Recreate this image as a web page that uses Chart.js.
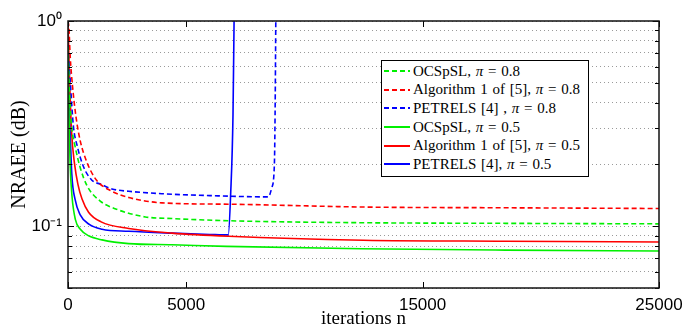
<!DOCTYPE html>
<html>
<head>
<meta charset="utf-8">
<script src="https://cdn.jsdelivr.net/npm/chart.js@4.4.0/dist/chart.umd.min.js"></script>
<style>
  body { margin: 0; background: #fff; }
  #wrap { position: relative; width: 697px; height: 327px; }
  #legend {
    position: absolute; left: 381px; top: 60px; width: 206px;
    padding: 1px 0 2px 0; border: 1.5px solid #000; background: #fff;
    font: 15px "Liberation Serif", serif; word-spacing: 1px; color: #000;
  }
  #legend .row { height: 18.6px; display: flex; align-items: center; white-space: nowrap; }
  #legend .swatch { width: 26px; height: 2px; margin: 0 3px 0 2px; flex: none; }
</style>
</head>
<body>
<div id="wrap">
  <canvas id="chart" width="697" height="327"></canvas>
  <div id="legend"></div>
</div>
<script>
// iterations (x) and NRAEE values (y)
const ocsN08 = [0, 60, 150, 300, 500, 810, 1350, 2050, 3270, 4400, 6850, 12500, 18500, 25000];
const ocsV08 = [0.75, 0.45, 0.31, 0.245, 0.196, 0.157, 0.133, 0.121, 0.111, 0.109, 0.1063, 0.104, 0.1033, 0.1027];

const algN08 = [0, 40, 90, 200, 340, 520, 800, 1200, 1860, 2570, 3980, 6850, 12500, 18500, 25000];
const algV08 = [1.0, 0.92, 0.68, 0.47, 0.34, 0.26, 0.205, 0.168, 0.148, 0.138, 0.130, 0.128, 0.124, 0.123, 0.122];

const petN08 = [0, 100, 225, 394, 647, 1000, 1400, 1860, 2570, 3980, 6000, 8470, 8620, 8730, 8760, 8790];
const petV08 = [0.76, 0.50, 0.31, 0.245, 0.196, 0.168, 0.160, 0.152, 0.148, 0.144, 0.141, 0.139, 0.154, 0.20, 0.35, 1.0];

const ocsN05 = [0, 40, 90, 169, 310, 521, 874, 1438, 2567, 4400, 6700, 12400, 18500, 25000];
const ocsV05 = [0.7, 0.35, 0.2, 0.140, 0.108, 0.0967, 0.0898, 0.0858, 0.0823, 0.0812, 0.0798, 0.0777, 0.0765, 0.0757];

const algN05 = [0, 50, 150, 280, 420, 590, 870, 1400, 2570, 4400, 6800, 12500, 18500, 25000];
const algV05 = [1.0, 0.6, 0.29, 0.2, 0.16, 0.136, 0.117, 0.105, 0.0975, 0.0925, 0.0893, 0.0855, 0.0845, 0.0838];

const petN05 = [0, 40, 85, 160, 300, 510, 900, 1440, 2570, 4400, 6000, 6780, 6880, 6980, 7025];
const petV05 = [0.76, 0.5, 0.31, 0.18, 0.135, 0.114, 0.102, 0.0967, 0.0945, 0.0925, 0.0912, 0.0907, 0.143, 0.35, 1.0];

const xTicks = [0, 5000, 15000, 25000];
const yTicks = [0.05, 0.06, 0.07, 0.08, 0.09, 0.1, 0.2, 0.3, 0.4, 0.5, 0.6, 0.7, 0.8, 0.9, 1];

const GREEN = "#00f000", RED = "#ff0000", BLUE = "#0000ff";

function pts(xs, ys) {
  return xs.map((x, i) => ({ x: x, y: ys[i] }));
}

function line(label, color, dashed, xs, ys) {
  return {
    label: label,
    data: pts(xs, ys),
    borderColor: color,
    backgroundColor: color,
    borderWidth: 1.6,
    borderDash: dashed ? [5, 3] : [],
    pointRadius: 0,
    cubicInterpolationMode: "monotone",
    fill: false,
  };
}

const datasets = [
  line("OCSpSL, <i>π</i> = 0.8", GREEN, true, ocsN08, ocsV08),
  line("Algorithm 1 of [5], <i>π</i> = 0.8", RED, true, algN08, algV08),
  line("PETRELS [4] , <i>π</i> = 0.8", BLUE, true, petN08, petV08),
  line("OCSpSL, <i>π</i> = 0.5", GREEN, false, ocsN05, ocsV05),
  line("Algorithm 1 of [5], <i>π</i> = 0.5", RED, false, algN05, algV05),
  line("PETRELS [4], <i>π</i> = 0.5", BLUE, false, petN05, petV05),
];

// frame + inward tick marks like the matlab figure
const frame = {
  id: "frame",
  afterDraw(chart) {
    const { ctx, chartArea: a, scales } = chart;
    ctx.save();
    ctx.strokeStyle = "#000";
    ctx.lineWidth = 1;
    ctx.beginPath();
    scales.y.ticks.forEach((t) => {
      const y = Math.round(scales.y.getPixelForValue(t.value)) + 0.5;
      const len = t.value === 1 || t.value === 0.1 ? 6 : 4;
      ctx.moveTo(a.left, y); ctx.lineTo(a.left + len, y);
      ctx.moveTo(a.right, y); ctx.lineTo(a.right - len, y);
    });
    scales.x.ticks.forEach((t) => {
      const x = Math.round(scales.x.getPixelForValue(t.value)) + 0.5;
      ctx.moveTo(x, a.bottom); ctx.lineTo(x, a.bottom - 6);
      ctx.moveTo(x, a.top); ctx.lineTo(x, a.top + 6);
    });
    ctx.stroke();
    ctx.lineWidth = 1.5;
    ctx.strokeStyle = "#111";
    ctx.strokeRect(a.left, a.top, a.right - a.left, a.bottom - a.top);
    ctx.restore();
  },
};

const chart = new Chart(document.getElementById("chart"), {
  type: "line",
  data: { datasets: datasets },
  plugins: [frame],
  options: {
    responsive: false,
    animation: false,
    layout: { padding: { left: 0, top: 21, right: 38, bottom: 0 } },
    plugins: { legend: { display: false }, tooltip: { enabled: false } },
    scales: {
      x: {
        type: "linear",
        min: 0,
        max: 25000,
        afterBuildTicks: (s) => { s.ticks = xTicks.map((v) => ({ value: v })); },
        afterFit: (s) => { s.height = 39; },
        grid: { display: false, drawTicks: false },
        border: { display: false },
        ticks: {
          autoSkip: false, maxRotation: 0, padding: 7,
          color: "#000",
          font: { family: "Liberation Sans", size: 17 },
          callback: (v) => String(v),
        },
        title: {
          display: true, text: "iterations n", color: "#000",
          font: { family: "Liberation Serif", size: 19 },
          padding: { top: 0, bottom: -3 },
        },
      },
      y: {
        type: "logarithmic",
        min: 0.05,
        max: 1,
        afterBuildTicks: (s) => { s.ticks = yTicks.map((v) => ({ value: v })); },
        afterFit: (s) => { s.width = 68; },
        grid: { color: "#9a9a9a", lineWidth: 1, drawTicks: false },
        border: { display: false, dash: [1, 3] },
        ticks: {
          autoSkip: false, padding: 6, color: "#000",
          font: { family: "Liberation Sans", size: 17 },
          callback: (v) => (v === 1 ? "10⁰" : v === 0.1 ? "10⁻¹" : ""),
        },
        title: {
          display: true, text: "NRAEE (dB)", color: "#000",
          font: { family: "Liberation Serif", size: 20 },
          padding: { top: 8, bottom: 0 },
        },
      },
    },
  },
});

// html legend built from the datasets
const legend = document.getElementById("legend");
chart.data.datasets.forEach((ds) => {
  const row = document.createElement("div");
  row.className = "row";
  const sw = document.createElement("span");
  sw.className = "swatch";
  sw.style.background = ds.borderDash.length
    ? "repeating-linear-gradient(to right, " + ds.borderColor + " 0 5px, transparent 5px 8px)"
    : ds.borderColor;
  const tx = document.createElement("span");
  tx.innerHTML = ds.label;
  row.appendChild(sw);
  row.appendChild(tx);
  legend.appendChild(row);
});
</script>
</body>
</html>
